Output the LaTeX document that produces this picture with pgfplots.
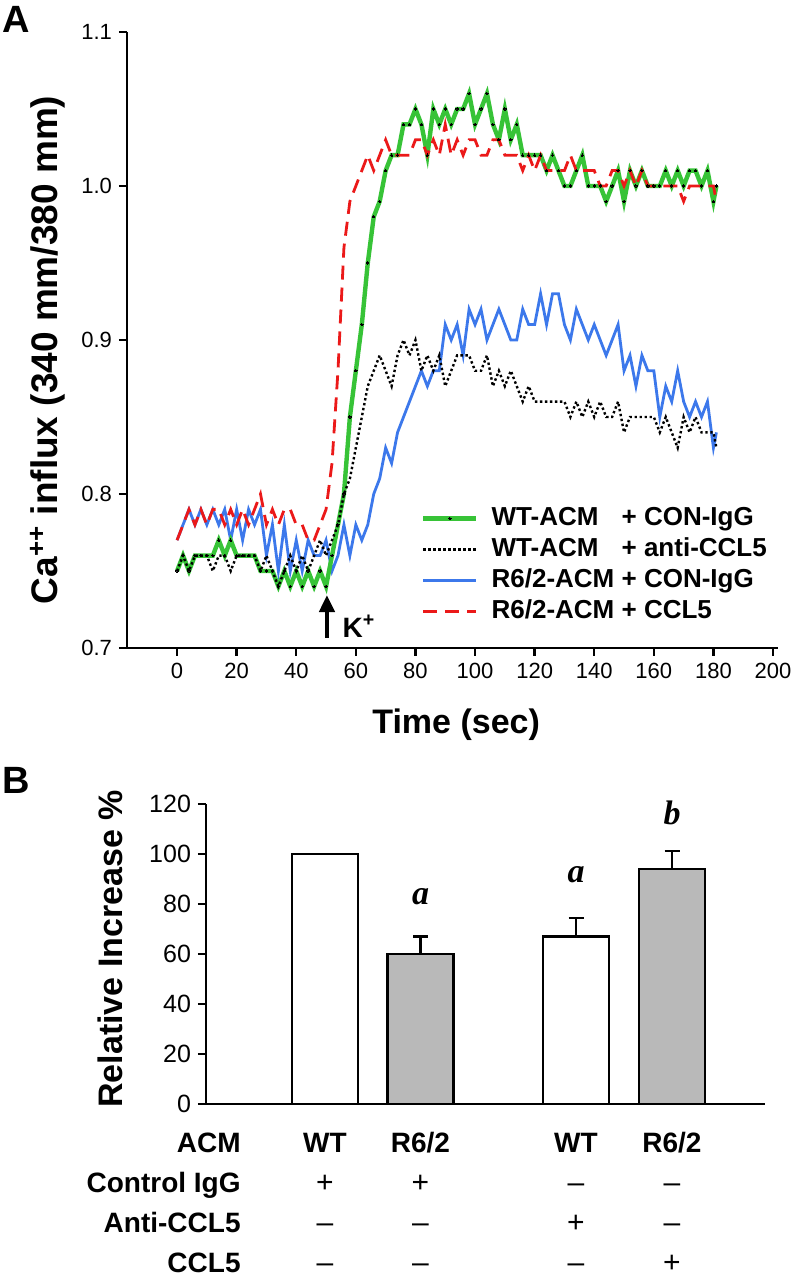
\documentclass[border=0pt]{standalone}
\usepackage{fontspec}
\setmainfont{Liberation Sans}
\newfontfamily\timesf{Liberation Serif}
\usepackage{pgfplots}
\pgfplotsset{compat=1.18}
\usepackage{pgfplotstable}
\usetikzlibrary{arrows.meta}
\definecolor{cgreen}{RGB}{55,195,55}
\definecolor{cblue}{RGB}{60,120,235}
\definecolor{cred}{RGB}{235,25,25}
\definecolor{cgray}{RGB}{185,185,185}

\pgfplotstableread{
t G K B R
0 0.75 0.75 0.77 0.77
2 0.76 0.76 0.78 0.78
4 0.75 0.75 0.79 0.79
6 0.76 0.76 0.78 0.78
8 0.76 0.76 0.79 0.79
10 0.76 0.76 0.78 0.78
12 0.76 0.75 0.79 0.79
14 0.77 0.76 0.78 0.79
16 0.76 0.76 0.79 0.78
18 0.77 0.75 0.77 0.79
20 0.76 0.76 0.79 0.78
22 0.76 0.76 0.77 0.79
24 0.76 0.76 0.79 0.78
26 0.76 0.76 0.78 0.79
28 0.75 0.75 0.79 0.80
30 0.75 0.76 0.76 0.78
32 0.75 0.75 0.78 0.79
34 0.74 0.74 0.75 0.78
36 0.75 0.75 0.78 0.79
38 0.74 0.76 0.75 0.79
40 0.75 0.75 0.77 0.78
42 0.74 0.76 0.75 0.78
44 0.75 0.75 0.77 0.77
46 0.74 0.76 0.76 0.77
48 0.75 0.77 0.76 0.78
50 0.74 0.76 0.77 0.79
52 0.76 0.77 0.75 0.82
54 0.78 0.78 0.76 0.88
56 0.80 0.80 0.78 0.96
58 0.85 0.81 0.76 0.99
60 0.88 0.83 0.78 1.00
62 0.91 0.85 0.77 1.01
64 0.95 0.87 0.78 1.02
66 0.98 0.88 0.80 1.01
68 0.99 0.89 0.81 1.02
70 1.01 0.88 0.83 1.03
72 1.02 0.87 0.82 1.02
74 1.02 0.89 0.84 1.02
76 1.04 0.90 0.85 1.02
78 1.04 0.89 0.86 1.02
80 1.05 0.90 0.87 1.03
82 1.04 0.88 0.88 1.03
84 1.02 0.89 0.87 1.02
86 1.05 0.88 0.88 1.03
88 1.04 0.89 0.88 1.02
90 1.05 0.87 0.91 1.04
92 1.04 0.88 0.90 1.02
94 1.05 0.89 0.91 1.03
96 1.05 0.89 0.89 1.02
98 1.06 0.89 0.92 1.03
100 1.04 0.88 0.91 1.03
102 1.05 0.88 0.92 1.02
104 1.06 0.89 0.90 1.02
106 1.04 0.87 0.91 1.03
108 1.03 0.88 0.92 1.03
110 1.05 0.87 0.91 1.02
112 1.03 0.88 0.90 1.02
114 1.04 0.87 0.90 1.02
116 1.02 0.86 0.92 1.01
118 1.02 0.87 0.91 1.02
120 1.02 0.86 0.91 1.01
122 1.02 0.86 0.93 1.02
124 1.01 0.86 0.91 1.01
126 1.02 0.86 0.93 1.01
128 1.01 0.86 0.93 1.01
130 1.00 0.86 0.91 1.01
132 1.00 0.85 0.90 1.02
134 1.01 0.86 0.92 1.01
136 1.02 0.85 0.91 1.01
138 1.00 0.86 0.90 1.01
140 1.00 0.85 0.91 1.01
142 1.00 0.86 0.90 1.00
144 0.99 0.85 0.89 1.00
146 1.00 0.85 0.90 1.01
148 1.01 0.86 0.91 1.01
150 0.99 0.84 0.88 1.00
152 1.01 0.85 0.89 1.01
154 1.00 0.85 0.87 1.00
156 1.01 0.85 0.89 1.01
158 1.00 0.85 0.88 1.00
160 1.00 0.85 0.88 1.00
162 1.00 0.84 0.85 1.00
164 1.01 0.85 0.87 1.00
166 1.00 0.84 0.86 1.00
168 1.01 0.83 0.88 1.00
170 1.00 0.85 0.86 0.99
172 1.01 0.84 0.85 1.00
174 1.01 0.85 0.86 1.00
176 1.00 0.84 0.85 1.00
178 1.01 0.84 0.86 1.00
180 0.99 0.84 0.83 1.00
181 1.00 0.83 0.84 0.99
}\calcium

\begin{document}
\begin{tikzpicture}
\useasboundingbox (0,0) rectangle (398.5pt,640pt);
\node[anchor=north west, inner sep=0pt, font=\fontsize{19}{19}\selectfont\bfseries] at (1pt,637pt) {A};
\begin{axis}[
  at={(63.5pt,316pt)}, anchor=south west,
  scale only axis, width=325.25pt, height=308pt,
  xmin=-16.8, xmax=201.5, ymin=0.7, ymax=1.1,
  axis x line*=bottom, axis y line*=left,
  axis line style={line width=1.2pt,-},
  xtick={0,20,...,200}, ytick={0.7,0.8,0.9,1.0,1.1},
  tick align=outside, major tick length=4pt,
  tick style={line width=1.2pt, black},
  /pgf/number format/assume math mode=true,
  y tick label style={/pgf/number format/.cd, fixed, fixed zerofill, precision=1, /tikz/.cd},
  tick label style={font=\fontsize{11}{12}\selectfont},
  xlabel={Time (sec)},
  ylabel={Ca\textsuperscript{++} influx (340 mm/380 mm)},
  xlabel style={font=\fontsize{17}{17}\selectfont\bfseries, at={(axis description cs:0.506,-0.0974)}, anchor=north, inner sep=0pt},
  ylabel style={font=\fontsize{18.5}{18.5}\selectfont\bfseries, at={(axis description cs:-0.094,0.484)}, anchor=south, inner sep=0pt},
  clip=false,
  legend image code/.code={\draw[mark repeat=2,mark phase=2,#1] plot coordinates {(0pt,0pt) (13.25pt,0pt) (26.5pt,0pt)};},
  legend cell align=left,
  legend style={at={(axis cs:81.8,0.7539)}, anchor=west, draw=none, fill=none, inner sep=0pt, row sep=3.5pt, column sep=6.5pt,
    font=\fontsize{13}{13}\selectfont\bfseries, nodes={inner sep=0pt, text height=9.5pt, text depth=2.5pt}},
]
\addlegendimage{cgreen, line width=2.2pt, mark=*, mark size=0.6pt, mark options={black, fill=black, line width=0pt, solid}}
\addlegendentry{\rlap{WT-ACM}\phantom{R6/2-ACM} + CON-IgG}
\addlegendimage{black, line width=1.2pt, dash pattern=on 1.2pt off 1.3pt}
\addlegendentry{\rlap{WT-ACM}\phantom{R6/2-ACM} + anti-CCL5}
\addlegendimage{cblue, line width=1.4pt}
\addlegendentry{R6/2-ACM + CON-IgG}
\addlegendimage{cred, line width=1.4pt, dash pattern=on 7pt off 4pt}
\addlegendentry{R6/2-ACM + CCL5}

\addplot[cblue, line width=1.4pt, forget plot] table[x=t,y=B]{\calcium};
\addplot[cgreen, line width=2.2pt, mark=*, mark size=0.6pt, mark options={black, fill=black, line width=0pt, solid}, forget plot] table[x=t,y=G]{\calcium};
\addplot[black, line width=1.2pt, dash pattern=on 1.2pt off 1.3pt, forget plot] table[x=t,y=K]{\calcium};
\addplot[cred, line width=1.4pt, dash pattern=on 7pt off 4pt, forget plot] table[x=t,y=R]{\calcium};

\draw[line width=2.1pt, -{Triangle[length=8.5pt,width=7.5pt]}] (axis cs:50.3,0.7065) -- (axis cs:50.3,0.7344);
\node[anchor=base west, inner sep=0pt, font=\fontsize{14}{14}\selectfont\bfseries] at (axis cs:55.4,0.7071) {K\textsuperscript{+}};
\end{axis}

\node[anchor=north west, inner sep=0pt, font=\fontsize{19}{19}\selectfont\bfseries] at (1pt,256.5pt) {B};
\begin{axis}[
  at={(103pt,88pt)}, anchor=south west,
  scale only axis, width=279.5pt, height=150pt,
  xmin=0, xmax=5.59, ymin=0, ymax=120,
  axis x line*=bottom, axis y line*=left,
  axis line style={line width=1.2pt,-},
  xtick=\empty, ytick={0,20,...,120},
  tick align=outside, major tick length=4pt,
  tick style={line width=1.2pt, black},
  /pgf/number format/assume math mode=true,
  tick label style={font=\fontsize{12.5}{14}\selectfont},
  ylabel={Relative Increase \%},
  ylabel style={font=\fontsize{17}{17}\selectfont\bfseries, at={(axis description cs:-0.148,0.517)}, anchor=south, inner sep=0pt},
  clip=false,
]
\addplot[ybar, bar width=0.66, bar shift=0pt, fill=white, draw=black, line width=1.1pt]
  coordinates {(1.19,100)};
\addplot[ybar, bar width=0.66, bar shift=0pt, fill=white, draw=black, line width=1.1pt,
  error bars/.cd, y dir=plus, y explicit, error bar style={line width=1.1pt}, error mark options={rotate=90, mark size=3.75pt, line width=1.1pt}]
  coordinates {(3.70,67) +- (0,7.5)};
\addplot[ybar, bar width=0.66, bar shift=0pt, fill=cgray, draw=black, line width=1.1pt,
  error bars/.cd, y dir=plus, y explicit, error bar style={line width=1.1pt}, error mark options={rotate=90, mark size=3.75pt, line width=1.1pt}]
  coordinates {(2.145,60) +- (0,7) (4.66,94) +- (0,7.3)};

\node[font=\timesf\fontsize{17}{17}\selectfont\bfseries\itshape] at (axis cs:2.145,83) {a};
\node[font=\timesf\fontsize{17}{17}\selectfont\bfseries\itshape] at (axis cs:3.70,91.7) {a};
\node[font=\timesf\fontsize{17}{17}\selectfont\bfseries\itshape] at (axis cs:4.66,116.5) {b};

\begin{scope}[every node/.style={inner sep=0pt, font=\fontsize{14}{14}\selectfont\bfseries}]
\node[anchor=base east] at (axis cs:0.35,-19.5) {ACM};
\node[anchor=base east] at (axis cs:0.35,-35.5) {Control IgG};
\node[anchor=base east] at (axis cs:0.35,-51.5) {Anti-CCL5};
\node[anchor=base east] at (axis cs:0.35,-67.2) {CCL5};
\node[anchor=base] at (axis cs:1.19,-19.5) {WT};
\node[anchor=base] at (axis cs:2.145,-19.5) {R6/2};
\node[anchor=base] at (axis cs:3.70,-19.5) {WT};
\node[anchor=base] at (axis cs:4.66,-19.5) {R6/2};
\end{scope}
\begin{scope}[every node/.style={inner sep=0pt, anchor=base, font=\fontsize{15}{15}\selectfont}]
\node at (axis cs:1.19,-35.5) {+};
\node at (axis cs:2.145,-35.5) {+};
\node at (axis cs:3.70,-35.5) {\textendash};
\node at (axis cs:4.66,-35.5) {\textendash};
\node at (axis cs:1.19,-51.5) {\textendash};
\node at (axis cs:2.145,-51.5) {\textendash};
\node at (axis cs:3.70,-51.5) {+};
\node at (axis cs:4.66,-51.5) {\textendash};
\node at (axis cs:1.19,-67.2) {\textendash};
\node at (axis cs:2.145,-67.2) {\textendash};
\node at (axis cs:3.70,-67.2) {\textendash};
\node at (axis cs:4.66,-67.2) {+};
\end{scope}
\end{axis}
\end{tikzpicture}
\end{document}
